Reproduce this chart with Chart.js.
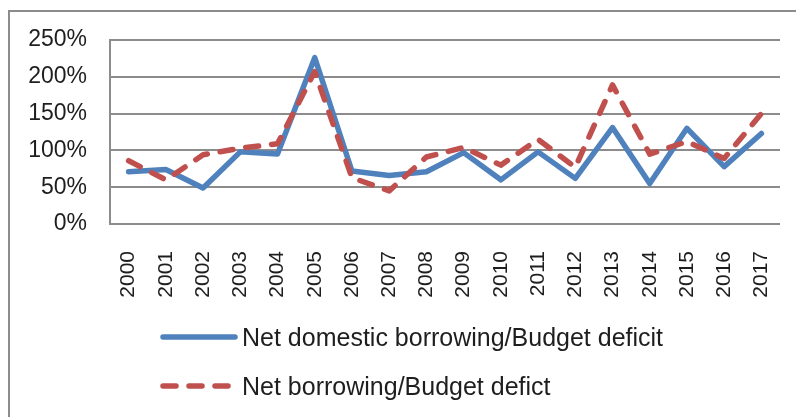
<!DOCTYPE html>
<html>
<head>
<meta charset="utf-8">
<script src="https://cdn.jsdelivr.net/npm/chart.js@4"></script>
<style>
  html, body { margin: 0; padding: 0; background: #fff; }
  body { width: 796px; height: 417px; position: relative; overflow: hidden; font-family: 'Liberation Sans', Arial, sans-serif; }
  #frame { position: absolute; left: 8px; top: 10px; width: 820px; height: 440px; border: 2px solid #8c8c8c; }
  #wrap { position: absolute; left: 0; top: 0; width: 796px; height: 417px; }
  .leg { position: absolute; left: 160px; height: 30px; display: flex; align-items: center; font-size: 25px; color: #1e1e1e; }
  .leg svg { margin-right: 4px; }
</style>
</head>
<body>
<div id="frame"></div>
<div id="wrap"><canvas id="chart" width="796" height="417"></canvas></div>
<div class="leg" style="top:322px">
  <svg width="78" height="10"><line x1="3" y1="5" x2="75" y2="5" stroke="#4F81BD" stroke-width="5.5" stroke-linecap="round"/></svg>
  Net domestic borrowing/Budget deficit
</div>
<div class="leg" style="top:371px">
  <svg width="78" height="10"><line x1="3" y1="5" x2="75" y2="5" stroke="#C0504D" stroke-width="5.5" stroke-linecap="round" stroke-dasharray="13 13"/></svg>
  Net borrowing/Budget defict
</div>
<script>
// years on the x axis
const years = ['2000', '2001', '2002', '2003', '2004', '2005', '2006', '2007', '2008',
               '2009', '2010', '2011', '2012', '2013', '2014', '2015', '2016', '2017'];
// values in percent
const domesticBorrowing = [71, 74, 49, 98, 95, 226, 72, 66, 71, 97, 60, 98, 62, 131, 55, 130, 78, 123];
const netBorrowing = [86, 60, 94, 103, 109, 207, 63, 45, 91, 104, 80, 115, 77, 189, 95, 112, 89, 150];
const yTicks = [0, 50, 100, 150, 200, 250];

const ctx = document.getElementById('chart').getContext('2d');
new Chart(ctx, {
    type: 'line',
    data: {
        labels: years,
        datasets: [{
            label: 'Net domestic borrowing/Budget deficit',
            data: domesticBorrowing,
            borderColor: '#4F81BD',
            borderWidth: 5.5,
            borderJoinStyle: 'round',
            borderCapStyle: 'round',
            pointRadius: 0,
            tension: 0,
            order: 2
        }, {
            label: 'Net borrowing/Budget defict',
            data: netBorrowing,
            borderColor: '#C0504D',
            borderWidth: 5.5,
            borderDash: [13, 13],
            borderJoinStyle: 'round',
            borderCapStyle: 'round',
            pointRadius: 0,
            tension: 0,
            order: 1
        }]
    },
    options: {
        responsive: false,
        animation: false,
        layout: { padding: { left: 10, right: 16, top: 40, bottom: 0 } },
        plugins: { legend: { display: false }, tooltip: { enabled: false } },
        scales: {
            x: {
                offset: true,
                grid: { display: false },
                border: { display: false },
                ticks: {
                    minRotation: 90, maxRotation: 90, padding: 19,
                    color: '#1e1e1e',
                    font: { family: 'Liberation Sans', size: 21 }
                },
                afterFit: (scale) => {
                    scale.height = 193;
                    scale.paddingLeft = 0;
                    scale.paddingRight = 0;
                }
            },
            y: {
                min: 0, max: 250,
                afterBuildTicks: (scale) => { scale.ticks = yTicks.map(v => ({ value: v })); },
                grid: { color: '#8c8c8c', lineWidth: 2, drawTicks: false },
                border: { display: true, color: '#8c8c8c', width: 2 },
                ticks: {
                    padding: 23,
                    color: '#1e1e1e',
                    font: { family: 'Liberation Sans', size: 23 },
                    callback: (v) => v + '%'
                },
                afterFit: (scale) => { scale.width = 100; }
            }
        }
    }
});
</script>
</body>
</html>
